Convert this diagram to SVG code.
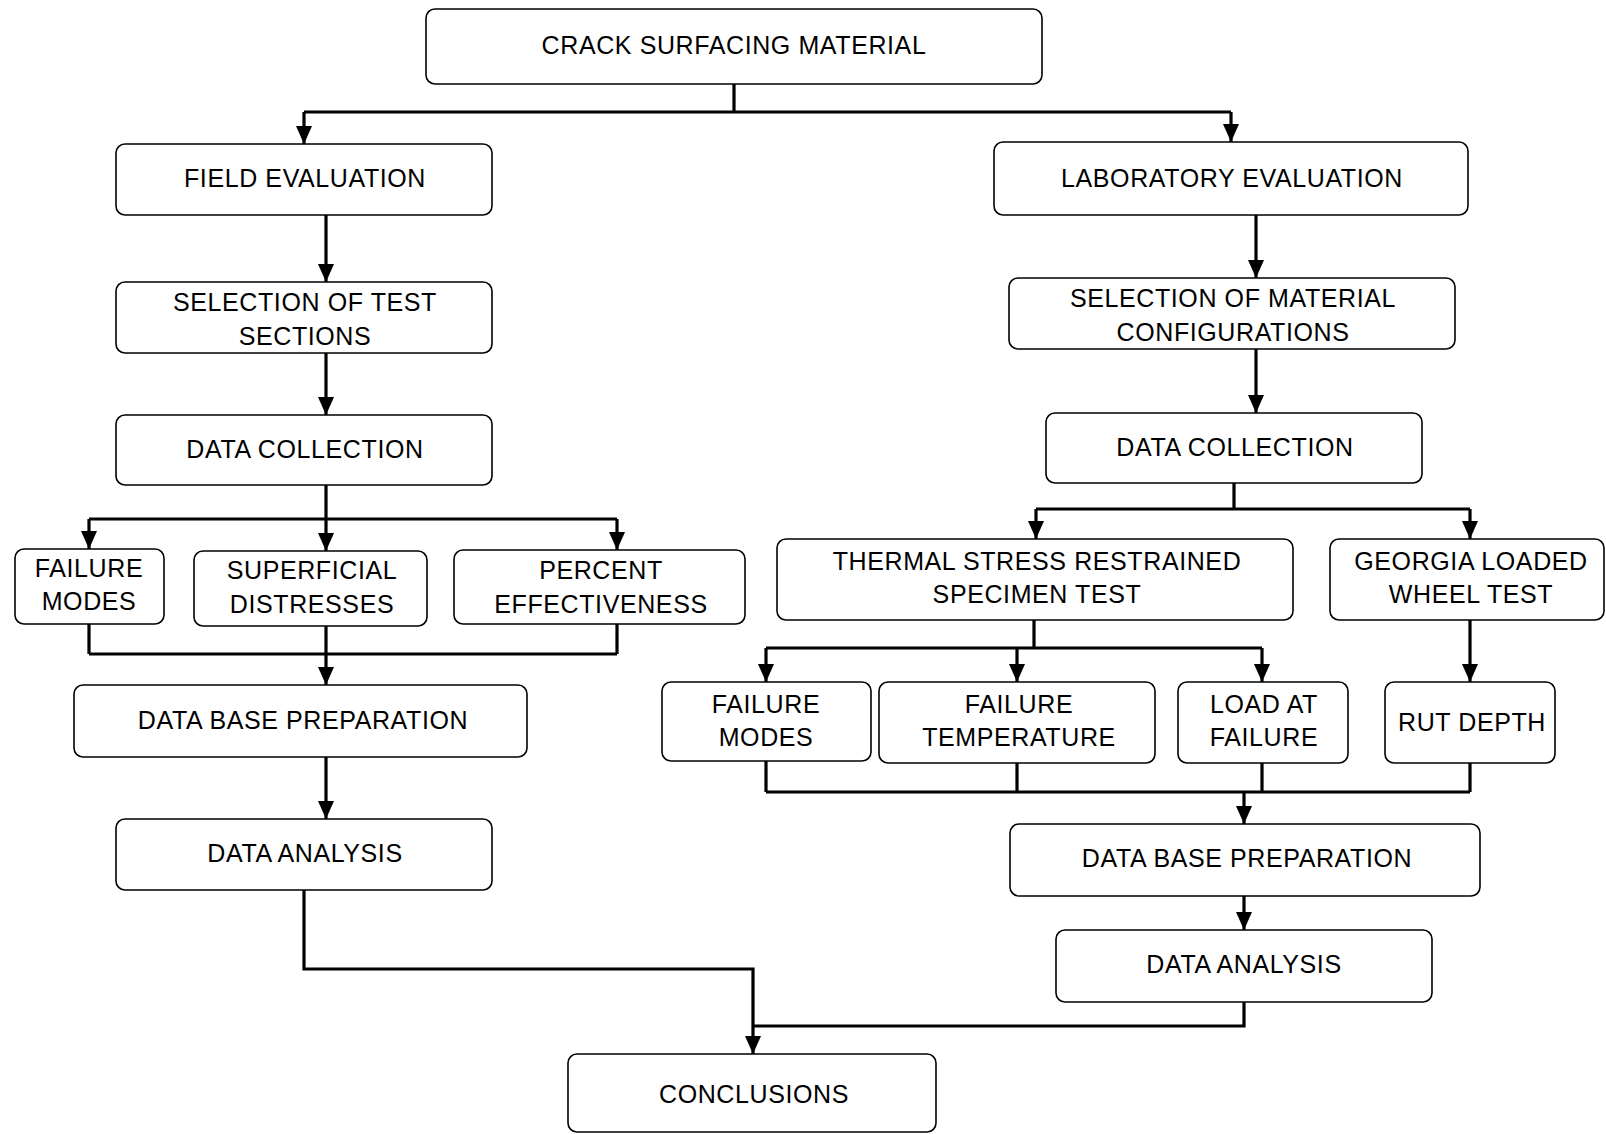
<svg xmlns="http://www.w3.org/2000/svg" width="1606" height="1134" viewBox="0 0 1606 1134">
<style>
.box{fill:#fff;stroke:#000;stroke-width:1.6}
.t{font-family:"Liberation Sans",Arial,sans-serif;font-size:25px;fill:#000;text-anchor:middle;letter-spacing:0.6px}
.c{fill:none;stroke:#000;stroke-width:3.2}
</style>
<defs>
<marker id="ah" markerWidth="18" markerHeight="16" refX="18" refY="8" orient="auto" markerUnits="userSpaceOnUse"><path d="M0,0 L18,8 L0,16 z" fill="#000"/></marker>
</defs>
<rect width="1606" height="1134" fill="#fff"/>
<g id="connectors">
<path class="c" d="M734,84 V112 M304,112 H1231"/>
<path class="c" d="M304,112 V144" marker-end="url(#ah)"/>
<path class="c" d="M1231,112 V142" marker-end="url(#ah)"/>
<path class="c" d="M326,215 V282" marker-end="url(#ah)"/>
<path class="c" d="M326,353 V415" marker-end="url(#ah)"/>
<path class="c" d="M326,485 V519 M89,519 H617"/>
<path class="c" d="M89,519 V549" marker-end="url(#ah)"/>
<path class="c" d="M326,519 V551" marker-end="url(#ah)"/>
<path class="c" d="M617,519 V550" marker-end="url(#ah)"/>
<path class="c" d="M89,624 V654 M326,626 V654 M617,624 V654 M89,654 H617"/>
<path class="c" d="M326,654 V685" marker-end="url(#ah)"/>
<path class="c" d="M326,757 V819" marker-end="url(#ah)"/>
<path class="c" d="M304,890 V969 H753 V1054" marker-end="url(#ah)"/>
<path class="c" d="M1256,215 V278" marker-end="url(#ah)"/>
<path class="c" d="M1256,349 V413" marker-end="url(#ah)"/>
<path class="c" d="M1234,483 V509 M1036,509 H1470"/>
<path class="c" d="M1036,509 V539" marker-end="url(#ah)"/>
<path class="c" d="M1470,509 V539" marker-end="url(#ah)"/>
<path class="c" d="M1034,620 V648 M766,648 H1262"/>
<path class="c" d="M766,648 V682" marker-end="url(#ah)"/>
<path class="c" d="M1017,648 V682" marker-end="url(#ah)"/>
<path class="c" d="M1262,648 V682" marker-end="url(#ah)"/>
<path class="c" d="M1470,620 V682" marker-end="url(#ah)"/>
<path class="c" d="M766,761 V792 M1017,763 V792 M1262,763 V792 M1470,763 V792 M766,792 H1470"/>
<path class="c" d="M1244,792 V824" marker-end="url(#ah)"/>
<path class="c" d="M1244,896 V930" marker-end="url(#ah)"/>
<path class="c" d="M1244,1002 V1026 H753"/>
</g>
<g id="n-crack"><rect class="box" x="426" y="9" width="616" height="75" rx="9"/><text class="t" x="734" y="54">CRACK SURFACING MATERIAL</text></g>
<g id="n-field"><rect class="box" x="116" y="144" width="376" height="71" rx="9"/><text class="t" x="305" y="187">FIELD EVALUATION</text></g>
<g id="n-lab"><rect class="box" x="994" y="142" width="474" height="73" rx="9"/><text class="t" x="1232" y="187">LABORATORY EVALUATION</text></g>
<g id="n-seltest"><rect class="box" x="116" y="282" width="376" height="71" rx="9"/><text class="t" x="305" y="311">SELECTION OF TEST</text><text class="t" x="305" y="345">SECTIONS</text></g>
<g id="n-selmat"><rect class="box" x="1009" y="278" width="446" height="71" rx="9"/><text class="t" x="1233" y="307">SELECTION OF MATERIAL</text><text class="t" x="1233" y="341">CONFIGURATIONS</text></g>
<g id="n-dc-left"><rect class="box" x="116" y="415" width="376" height="70" rx="9"/><text class="t" x="305" y="458">DATA COLLECTION</text></g>
<g id="n-dc-right"><rect class="box" x="1046" y="413" width="376" height="70" rx="9"/><text class="t" x="1235" y="456">DATA COLLECTION</text></g>
<g id="n-fm-left"><rect class="box" x="15" y="549" width="149" height="75" rx="9"/><text class="t" x="89" y="577">FAILURE</text><text class="t" x="89" y="610">MODES</text></g>
<g id="n-superficial"><rect class="box" x="194" y="551" width="233" height="75" rx="9"/><text class="t" x="312" y="579">SUPERFICIAL</text><text class="t" x="312" y="613">DISTRESSES</text></g>
<g id="n-percent"><rect class="box" x="454" y="550" width="291" height="74" rx="9"/><text class="t" x="601" y="579">PERCENT</text><text class="t" x="601" y="613">EFFECTIVENESS</text></g>
<g id="n-thermal"><rect class="box" x="777" y="539" width="516" height="81" rx="9"/><text class="t" x="1037" y="570">THERMAL STRESS RESTRAINED</text><text class="t" x="1037" y="603">SPECIMEN TEST</text></g>
<g id="n-georgia"><rect class="box" x="1330" y="539" width="274" height="81" rx="9"/><text class="t" x="1471" y="570">GEORGIA LOADED</text><text class="t" x="1471" y="603">WHEEL TEST</text></g>
<g id="n-dbp-left"><rect class="box" x="74" y="685" width="453" height="72" rx="9"/><text class="t" x="303" y="729">DATA BASE PREPARATION</text></g>
<g id="n-fm-right"><rect class="box" x="662" y="682" width="209" height="79" rx="9"/><text class="t" x="766" y="713">FAILURE</text><text class="t" x="766" y="746">MODES</text></g>
<g id="n-ftemp"><rect class="box" x="879" y="682" width="276" height="81" rx="9"/><text class="t" x="1019" y="713">FAILURE</text><text class="t" x="1019" y="746">TEMPERATURE</text></g>
<g id="n-load"><rect class="box" x="1178" y="682" width="170" height="81" rx="9"/><text class="t" x="1264" y="713">LOAD AT</text><text class="t" x="1264" y="746">FAILURE</text></g>
<g id="n-rut"><rect class="box" x="1385" y="682" width="170" height="81" rx="9"/><text class="t" x="1472" y="731">RUT DEPTH</text></g>
<g id="n-da-left"><rect class="box" x="116" y="819" width="376" height="71" rx="9"/><text class="t" x="305" y="862">DATA ANALYSIS</text></g>
<g id="n-dbp-right"><rect class="box" x="1010" y="824" width="470" height="72" rx="9"/><text class="t" x="1247" y="867">DATA BASE PREPARATION</text></g>
<g id="n-da-right"><rect class="box" x="1056" y="930" width="376" height="72" rx="9"/><text class="t" x="1244" y="973">DATA ANALYSIS</text></g>
<g id="n-conclusions"><rect class="box" x="568" y="1054" width="368" height="78" rx="9"/><text class="t" x="754" y="1103">CONCLUSIONS</text></g>
</svg>
